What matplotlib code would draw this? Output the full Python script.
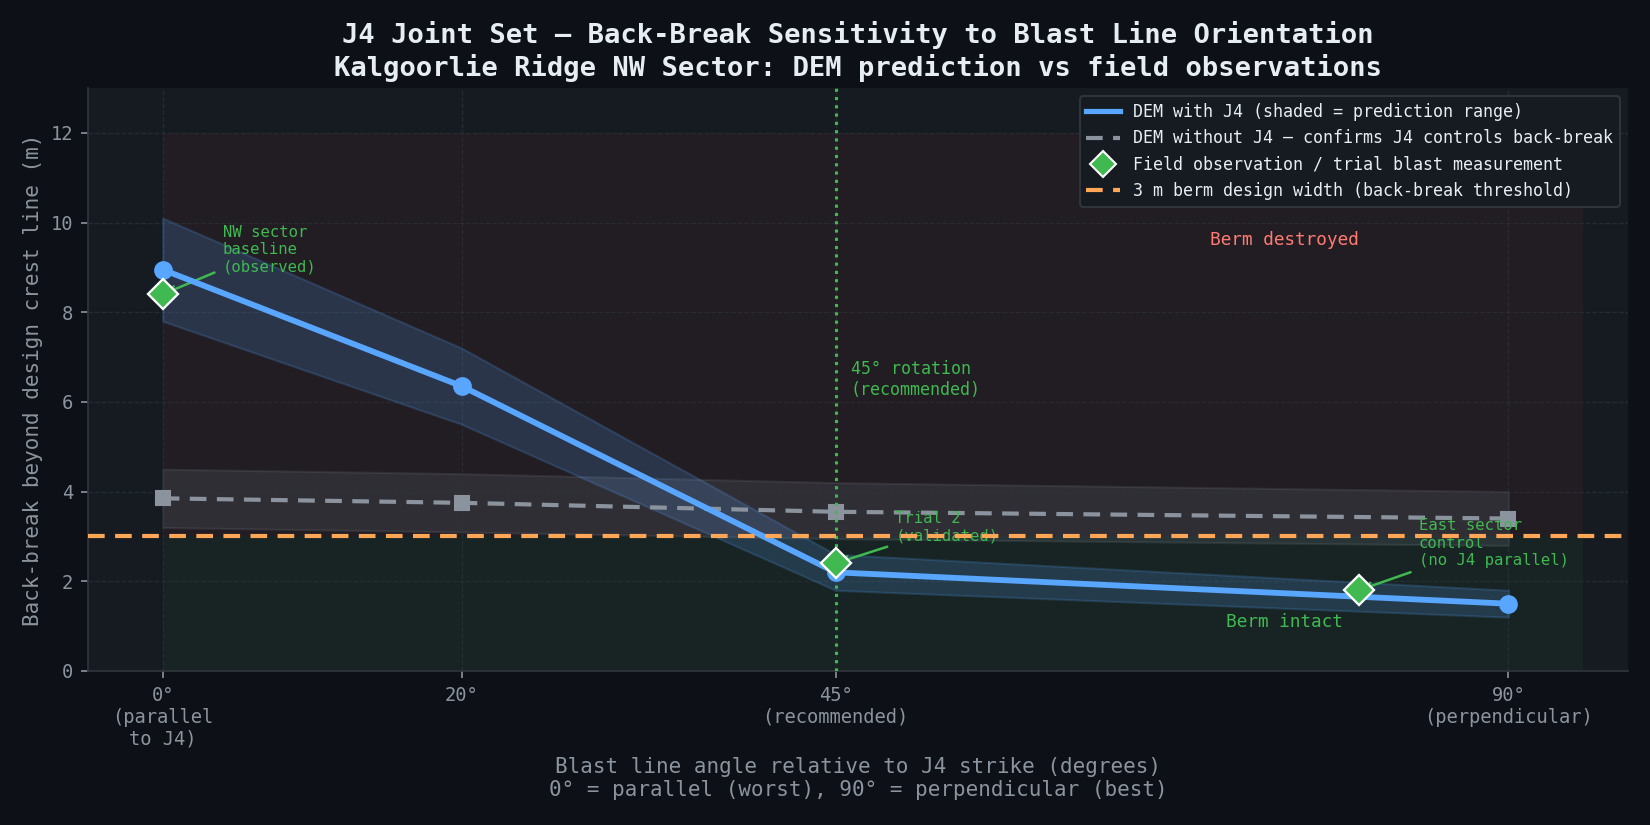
import numpy as np
import matplotlib
matplotlib.use("Agg")
import matplotlib.pyplot as plt
from matplotlib.lines import Line2D

# colours (dark theme)
BG = "#0d1117"
PANEL = "#161b22"
EDGE = "#30363d"
TXT = "#e6edf3"
MUTED = "#8b949e"
BLUE = "#58a6ff"
GREEN = "#3fb950"
ORANGE = "#ffa657"
RED = "#f85149"
SALMON = "#ff7b72"

# data
angles = [0, 20, 45, 90]
tick_labels = ["0°\n(parallel\nto J4)", "20°", "45°\n(recommended)", "90°\n(perpendicular)"]

dem_j4 = [8.95, 6.35, 2.2, 1.5]
dem_j4_lo = [7.8, 5.5, 1.8, 1.2]
dem_j4_hi = [10.1, 7.2, 2.6, 1.8]

dem_noj4 = [3.85, 3.75, 3.55, 3.4]
dem_noj4_lo = [3.2, 3.1, 2.95, 2.8]
dem_noj4_hi = [4.5, 4.4, 4.2, 4.0]

field_x = [0, 45, 80]
field_y = [8.4, 2.4, 1.8]
field_notes = ["NW sector\nbaseline\n(observed)", "Trial 2\n(validated)",
               "East sector\ncontrol\n(no J4 parallel)"]
note_pos = [(4, 9.4), (49, 3.2), (84, 2.85)]

berm = 3.0

plt.rcParams["font.family"] = "DejaVu Sans Mono"

fig = plt.figure(figsize=(11, 5.5), dpi=150, facecolor=BG)
ax = fig.add_axes([0.0533, 0.1867, 0.9334, 0.7066])
ax.set_facecolor(PANEL)

# zones
ax.fill_between([0, 95], berm, 12, color=RED, alpha=0.05, lw=0, zorder=0)
ax.fill_between([0, 95], 0, berm, color=GREEN, alpha=0.06, lw=0, zorder=0)
ax.text(75, 9.6, "Berm destroyed", color=SALMON, fontsize=8.5, ha="center", va="center")
ax.text(75, 1.1, "Berm intact", color=GREEN, fontsize=8.5, ha="center", va="center")

# prediction bands
ax.fill_between(angles, dem_noj4_lo, dem_noj4_hi, color=MUTED, alpha=0.15,
                edgecolor=MUTED, lw=1, zorder=1)
ax.fill_between(angles, dem_j4_lo, dem_j4_hi, color=BLUE, alpha=0.18,
                edgecolor=BLUE, lw=1, zorder=2)

ax.plot(angles, dem_noj4, color=MUTED, lw=2, ls=(0, (4, 2.5)), marker="s", ms=7, zorder=3)
ax.plot(angles, dem_j4, color=BLUE, lw=2.8, marker="o", ms=8, zorder=4)

ax.axhline(berm, color=ORANGE, lw=2, ls=(0, (4, 2.5)), zorder=5)
ax.axvline(45, color=GREEN, lw=1.5, ls=":", zorder=3)
ax.text(46, 6.5, "45° rotation\n(recommended)", color=GREEN, fontsize=8, ha="left", va="center")

ax.plot(field_x, field_y, ls="none", marker="D", ms=10, color=GREEN,
        markeredgecolor="white", markeredgewidth=1.1, zorder=6)
for fx, fy, note, pos in zip(field_x, field_y, field_notes, note_pos):
    ax.annotate(note, xy=(fx, fy), xytext=pos, color=GREEN, fontsize=7.5,
                ha="left", va="center",
                arrowprops=dict(arrowstyle="->", color=GREEN, lw=1.2))

ax.set_xlim(-5, 98)
ax.set_ylim(0, 13)
ax.set_xticks(angles)
ax.set_xticklabels(tick_labels)
ax.set_yticks(range(0, 13, 2))
ax.tick_params(colors=MUTED, labelsize=9)
ax.grid(True, color=EDGE, ls="--", lw=0.6, alpha=0.6)
for s in ["top", "right"]:
    ax.spines[s].set_visible(False)
for s in ["left", "bottom"]:
    ax.spines[s].set_color(EDGE)

ax.set_xlabel("Blast line angle relative to J4 strike (degrees)\n"
              "0° = parallel (worst), 90° = perpendicular (best)", color=MUTED, fontsize=10)
ax.set_ylabel("Back-break beyond design crest line (m)", color=MUTED, fontsize=10)
ax.set_title("J4 Joint Set — Back-Break Sensitivity to Blast Line Orientation\n"
             "Kalgoorlie Ridge NW Sector: DEM prediction vs field observations",
             color=TXT, fontsize=13, fontweight="bold", pad=6)

handles = [
    Line2D([], [], color=BLUE, lw=2.5),
    Line2D([], [], color=MUTED, lw=2, ls=(0, (4, 2.5))),
    Line2D([], [], ls="none", marker="D", ms=9, color=GREEN, markeredgecolor="white"),
    Line2D([], [], color=ORANGE, lw=2, ls=(0, (4, 2.5))),
]
labels = [
    "DEM with J4 (shaded = prediction range)",
    "DEM without J4 — confirms J4 controls back-break",
    "Field observation / trial blast measurement",
    "3 m berm design width (back-break threshold)",
]
leg = ax.legend(handles, labels, loc="upper right", fontsize=8, facecolor=PANEL,
                edgecolor=EDGE, labelcolor=TXT, framealpha=0.95)
leg.set_zorder(10)

fig.savefig("out.png", dpi=150, facecolor=BG)
